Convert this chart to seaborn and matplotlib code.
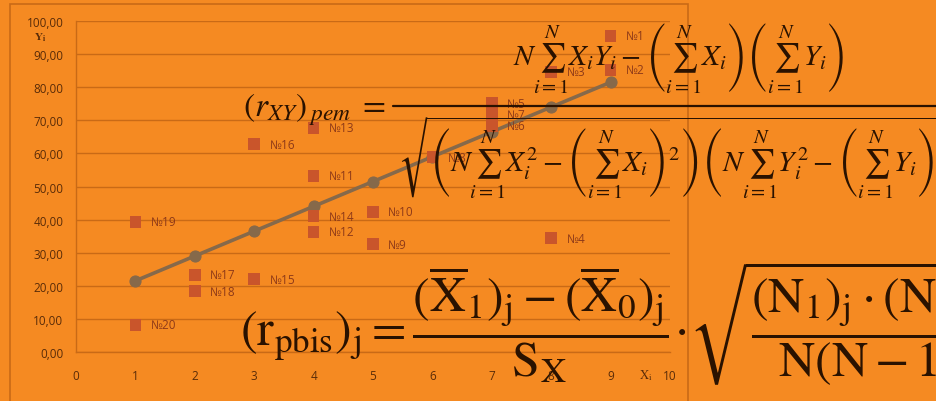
import matplotlib
matplotlib.use("Agg")
import matplotlib.pyplot as plt
import seaborn as sns
import pandas as pd
from matplotlib.patches import Rectangle
from matplotlib.lines import Line2D

# ---- data ----
point_labels = ["№1", "№2", "№3", "№4", "№5", "№6", "№7", "№8", "№9", "№10",
                "№11", "№12", "№13", "№14", "№15", "№16", "№17", "№18", "№19", "№20"]
x_vals = [9, 9, 8, 8, 7, 7, 7, 6, 5, 5, 4, 4, 4, 4, 3, 3, 2, 2, 1, 1]
y_vals = [95.5, 85.2, 84.6, 34.4, 75.2, 68.3, 71.9, 58.9, 32.6, 42.3,
          53.2, 36.3, 67.7, 41.0, 22.0, 62.8, 23.3, 18.4, 39.3, 8.2]
trend_x = [1, 2, 3, 4, 5, 6, 7, 8, 9]
trend_y = [21.5, 29.0, 36.5, 44.0, 51.5, 59.0, 66.5, 74.0, 81.5]
y_ticks = [0, 10, 20, 30, 40, 50, 60, 70, 80, 90, 100]
y_tick_labels = ["0,00", "10,00", "20,00", "30,00", "40,00", "50,00",
                 "60,00", "70,00", "80,00", "90,00", "100,00"]
x_ticks = [0, 1, 2, 3, 4, 5, 6, 7, 8, 9, 10]

BG = "#F58A22"
GRID = "#C96A16"
SQ = "#C9552B"
LINE = "#86694A"
TXT = "#5A2C08"
FORM = "#2A1200"

sns.set_theme(style="white")
plt.rcParams["font.family"] = ["Open Sans", "DejaVu Sans"]
plt.rcParams["mathtext.fontset"] = "stix"

fig = plt.figure(figsize=(9.37, 4.02), dpi=100, facecolor=BG)
W, H = 937, 402
ax = fig.add_axes([76 / W, 1 - 353 / H, (670 - 76) / W, (353 - 22) / H])
ax.set_facecolor(BG)

pts = pd.DataFrame({"x": x_vals, "y": y_vals, "label": point_labels})
trend = pd.DataFrame({"x": trend_x, "y": trend_y})

for yt in y_ticks:
    ax.axhline(yt, color=GRID, lw=1.0, zorder=0)

sns.lineplot(data=trend, x="x", y="y", ax=ax, color=LINE, lw=2.6,
             marker="o", markersize=8, markeredgecolor=LINE, zorder=3)
sns.scatterplot(data=pts, x="x", y="y", ax=ax, marker="s", s=70,
                color=SQ, edgecolor="none", zorder=4)
for _, r in pts.iterrows():
    ax.annotate(r["label"], (r["x"], r["y"]), xytext=(11, 0),
                textcoords="offset points", va="center", ha="left",
                fontsize=8.5, color="#8E3A18", zorder=5)

ax.set_xlim(0, 10)
ax.set_ylim(0, 100)
ax.set_xticks(x_ticks)
ax.set_xticklabels([str(v) for v in x_ticks])
ax.set_yticks(y_ticks)
ax.set_yticklabels(y_tick_labels)
ax.tick_params(axis="both", labelsize=8.5, colors=TXT, length=0, pad=9)
ax.tick_params(axis="x", length=4, direction="inout", color=GRID, pad=10)
ax.set_xlabel("")
ax.set_ylabel("")
for side in ["top", "right"]:
    ax.spines[side].set_visible(False)
ax.spines["left"].set_color(GRID)
ax.spines["bottom"].set_color(GRID)
ax.spines["left"].set_linewidth(1.0)
ax.spines["bottom"].set_linewidth(1.0)

fig.text(40 / W, 1 - 38 / H, r"$\mathbf{Y_i}$", fontsize=8, color=TXT,
         ha="center", va="center")
fig.text(646 / W, 1 - 376 / H, r"$\mathrm{X_i}$", fontsize=9, color=TXT,
         ha="center", va="center")

# chart outer frame
fig.patches.append(Rectangle((10 / W, -0.01), (688 - 10) / W, 1 - 5 / H + 0.01,
                             transform=fig.transFigure, fill=False,
                             edgecolor=GRID, lw=1.2))

# ---- formula overlays ----
f1_left = r"$(r_{XY})_{\,pem}\;=$"
fig.text(386 / W, 1 - 117 / H, f1_left, fontsize=24, color=FORM,
         ha="right", va="baseline")
f1_num = (r"$N\sum_{i=1}^{N}X_iY_i - "
          r"\left(\sum_{i=1}^{N}X_i\right)\left(\sum_{i=1}^{N}Y_i\right)$")
fig.text(513 / W, 1 - 58 / H, f1_num, fontsize=21, color=FORM,
         ha="left", va="center")
fig.add_artist(Line2D([393 / W, 1.0], [1 - 107 / H, 1 - 107 / H],
                      transform=fig.transFigure, color=FORM, lw=1.6))
f1_den = (r"$\sqrt{\left(N\sum_{i=1}^{N}X_i^2 - \left(\sum_{i=1}^{N}X_i\right)^2\right)"
          r"\left(N\sum_{i=1}^{N}Y_i^2 - \left(\sum_{i=1}^{N}Y_i\right)^2\right)}$")
fig.text(398 / W, 1 - 158 / H, f1_den, fontsize=21, color=FORM,
         ha="left", va="center")

f2 = (r"$(\mathrm{r_{pbis}})_\mathrm{j} = "
      r"\dfrac{(\overline{\mathrm{X}}_1)_\mathrm{j} - (\overline{\mathrm{X}}_0)_\mathrm{j}}{\mathrm{S_X}}"
      r"\!\cdot\!\sqrt{\dfrac{(\mathrm{N}_1)_\mathrm{j}\cdot(\mathrm{N}_0)_\mathrm{j}}{\mathrm{N(N-1)}}}$")
fig.text(240 / W, 1 - 345 / H, f2, fontsize=36, color=FORM, ha="left", va="baseline")

fig.savefig("out.png", dpi=100, facecolor=BG)
